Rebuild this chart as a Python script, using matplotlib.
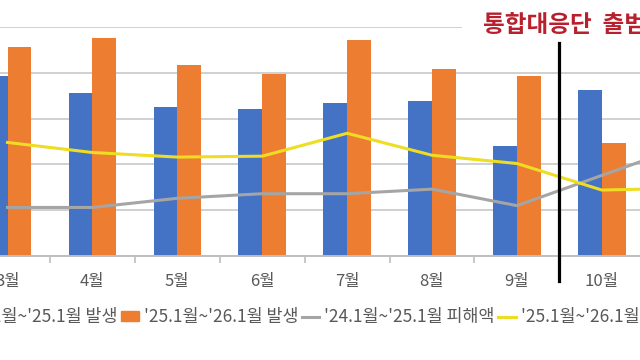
import matplotlib
matplotlib.use("Agg")
import matplotlib.pyplot as plt
import numpy as np
from matplotlib.patches import Patch
from matplotlib.lines import Line2D

plt.rcParams['font.family'] = ['Noto Sans CJK KR', 'DejaVu Sans']

# data (y axis labels are cropped in the reference)
months = ['3월', '4월', '5월', '6월', '7월', '8월', '9월', '10월', '11월']
cases_prev = [1970, 1780, 1630, 1610, 1675, 1695, 1205, 1815, 1700]   # '24.1월~'25.1월 발생
cases_curr = [2285, 2380, 2085, 1990, 2360, 2045, 1965, 1230, 1150]   # '25.1월~'26.1월 발생
loss_prev = [53, 53, 63, 68, 68, 73, 55, 88, 121]                     # '24.1월~'25.1월 피해액
loss_curr = [124, 113, 108, 109, 134, 110, 101, 72, 74]               # '25.1월~'26.1월 피해액

labels = ["'24.1월~'25.1월 발생", "'25.1월~'26.1월 발생",
          "'24.1월~'25.1월 피해액", "'25.1월~'26.1월 피해액"]

BLUE = '#4472C4'
ORANGE = '#ED7D31'
GRAY = '#A5A5A5'
YELLOW = '#EEDD22'

fig = plt.figure(figsize=(6.4, 3.6), dpi=100, facecolor='white')
# the reference is a crop of a wider chart, so the axes run past the canvas
ax = fig.add_axes([-0.0546, 0.2889, 1.194, 0.636])
x = np.arange(len(months))
w = 0.28

ax.bar(x - w / 2, cases_prev, w, color=BLUE, zorder=2)
ax.bar(x + w / 2, cases_curr, w, color=ORANGE, zorder=2)

ax.set_xlim(-0.5, len(months) - 0.5)
ax.set_ylim(0, 2500)
ax.set_yticks(np.arange(0, 2501, 500))
ax.yaxis.grid(True, color='#D0D0D0', lw=1.4, zorder=0)
ax.tick_params(axis='y', left=False, labelleft=False)
ax.set_xticks(x)
ax.set_xticklabels(months, fontsize=12, color='#595959')
ax.set_xticks(x[:-1] + 0.5, minor=True)
ax.tick_params(axis='x', which='major', length=0, pad=12)
ax.tick_params(axis='x', which='minor', length=5, color='#BFBFBF', width=1.2)
for s in ['top', 'left', 'right']:
    ax.spines[s].set_visible(False)
ax.spines['bottom'].set_color('#BFBFBF')
ax.spines['bottom'].set_linewidth(1.4)

ax2 = ax.twinx()
ax2.set_ylim(0, 250)
ax2.plot(x, loss_prev, color=GRAY, lw=2.2, zorder=3)
ax2.plot(x, loss_curr, color=YELLOW, lw=2.2, zorder=3)
ax2.axis('off')

# launch marker
ax2.axvline(6.5, ymin=-0.109, ymax=0.93, color='black', lw=2.3, clip_on=False, zorder=6)
ax2.text(5.6, 252, '통합대응단  출범', fontsize=17, fontweight='bold', color='#B8202E',
         ha='left', va='center', zorder=5,
         bbox=dict(boxstyle='square,pad=0.9', fc='white', ec='none'))

handles = [Patch(color=BLUE), Patch(color=ORANGE),
           Line2D([], [], color=GRAY, lw=2.2), Line2D([], [], color=YELLOW, lw=2.2)]
fig.legend(handles, labels, loc='center', bbox_to_anchor=(0.494, 0.119), ncol=4,
           frameon=False, fontsize=12.5, labelcolor='#595959',
           handlelength=1.0, handleheight=0.45, handletextpad=0.3, columnspacing=0.2)

fig.savefig('out.png', dpi=100)
